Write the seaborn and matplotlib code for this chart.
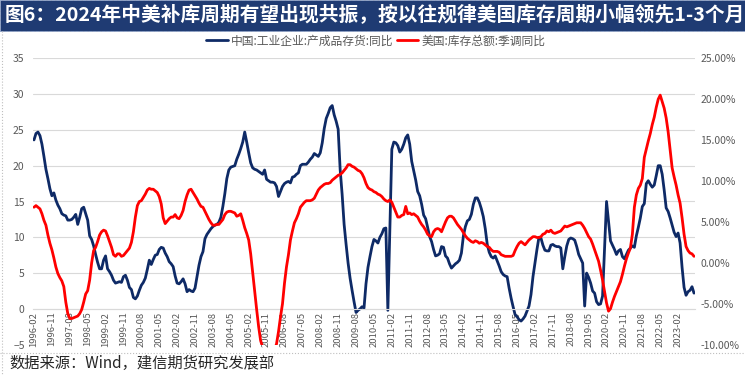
import numpy as np
import pandas as pd
import seaborn as sns
import matplotlib.pyplot as plt
from matplotlib.lines import Line2D
from matplotlib.patches import Rectangle

sns.set_theme(style='white')
plt.rcParams['font.family'] = ['Noto Sans CJK SC', 'DejaVu Sans']

title = '图6：2024年中美补库周期有望出现共振，按以往规律美国库存周期小幅领先1-3个月'
source = '数据来源：Wind，建信期货研究发展部'
china_name = '中国:工业企业:产成品存货:同比'
us_name = '美国:库存总额:季调同比'

months = list(pd.period_range('1996-02', periods=333, freq='M').strftime('%Y-%m'))

# 中国:工业企业:产成品存货:同比 (%), left axis
china_inv = [
    23.6, 24.5, 24.7, 24.2, 23.0, 21.3, 19.5, 18.2, 16.8, 15.8,
    16.2, 15.2, 14.5, 14.0, 13.3, 13.1, 13.0, 12.4, 12.4, 12.5,
    12.8, 13.2, 11.8, 12.8, 14.0, 14.2, 13.3, 12.4, 10.2, 9.7,
    8.8, 7.6, 6.5, 5.6, 5.6, 6.8, 7.4, 5.6, 5.2, 4.7,
    4.0, 3.6, 3.7, 3.8, 3.7, 4.5, 4.7, 4.0, 3.0, 2.7,
    1.6, 1.4, 1.8, 2.6, 3.3, 3.7, 4.3, 5.5, 6.8, 6.2,
    6.9, 7.5, 7.6, 8.3, 8.6, 8.5, 7.8, 7.3, 6.6, 6.3,
    5.9, 4.6, 3.6, 3.5, 3.8, 4.2, 3.5, 2.4, 2.7, 2.5,
    2.4, 2.9, 4.5, 6.1, 7.3, 8.0, 9.8, 10.4, 10.8, 11.2,
    11.5, 11.7, 11.8, 12.1, 12.8, 14.3, 16.1, 18.2, 19.4, 19.8,
    19.9, 20.0, 20.9, 21.6, 22.4, 23.3, 24.7, 23.3, 21.8, 20.4,
    19.7, 19.5, 19.4, 19.2, 19.0, 18.8, 19.4, 18.1, 17.9, 17.7,
    17.7, 17.6, 17.1, 15.7, 16.4, 17.1, 17.5, 17.7, 17.8, 17.6,
    18.4, 18.5, 18.8, 19.0, 20.0, 20.2, 20.2, 20.2, 20.5, 20.9,
    21.2, 21.7, 21.5, 21.3, 21.8, 23.2, 25.2, 26.6, 27.3, 28.1,
    28.4, 27.1, 26.2, 25.1, 19.5, 16.0, 11.8, 9.0, 6.4, 4.3,
    2.6, 1.0, -0.5, -0.2, 0.0, 0.3, 0.1, 3.5, 5.8, 7.3,
    8.7, 9.7, 9.5, 9.2, 10.0, 10.5, 11.2, 11.3, -0.2, 11.0,
    22.3, 23.3, 23.2, 22.8, 21.9, 22.3, 23.0, 23.9, 24.3, 23.0,
    20.6, 19.3, 18.0, 16.4, 15.8, 14.6, 13.1, 12.6, 11.4, 10.1,
    9.4, 8.3, 7.4, 7.5, 7.7, 8.7, 8.6, 7.4, 7.1, 6.3,
    5.7, 6.0, 6.3, 6.5, 6.8, 7.8, 10.2, 11.5, 12.3, 12.5,
    13.2, 14.6, 15.5, 15.5, 14.9, 14.0, 12.9, 11.2, 9.0, 7.9,
    7.3, 7.1, 7.4, 6.7, 6.0, 5.2, 4.8, 4.6, 4.5, 2.9,
    1.5, 0.3, -0.8, -1.1, -1.5, -1.7, -1.4, -1.0, -0.3, 0.4,
    2.0, 4.5, 6.4, 8.3, 10.0, 9.9, 8.9, 8.2, 8.1, 8.1,
    8.9, 9.0, 8.8, 8.7, 8.7, 8.5, 5.6, 7.3, 8.8, 9.7,
    9.9, 9.8, 9.6, 8.7, 7.6, 7.0, 6.4, 0.4, 5.0, 4.4,
    3.6, 2.5, 2.2, 1.0, 0.6, 0.7, 1.8, 8.5, 15.0, 12.2,
    9.5, 8.9, 8.3, 7.6, 8.1, 8.3, 7.3, 7.0, 7.6, 8.2,
    8.5, 8.8, 8.6, 10.2, 11.4, 12.7, 14.3, 14.7, 17.5, 17.9,
    17.4, 17.0, 17.3, 18.6, 20.0, 20.0, 18.8, 16.6, 14.1, 13.6,
    12.7, 11.7, 10.7, 10.1, 10.6, 9.2, 5.8, 3.0, 1.9, 2.4,
    2.6, 3.1, 2.2,
]

# 美国:库存总额:季调同比 (%), right axis
us_inv = [
    6.8, 7.0, 6.8, 6.6, 6.0, 5.2, 4.6, 3.4, 2.4, 1.6,
    0.6, -0.5, -1.3, -1.8, -2.2, -2.9, -4.8, -6.2, -6.8, -6.8,
    -6.7, -6.6, -6.5, -6.2, -5.7, -4.8, -3.8, -3.4, -2.1, 0.0,
    1.5, 1.9, 2.6, 3.4, 3.8, 4.0, 3.9, 3.3, 2.6, 1.9,
    1.0, 0.8, 1.1, 1.1, 0.8, 0.9, 1.2, 1.5, 1.8, 2.5,
    3.8, 5.6, 7.0, 7.5, 7.6, 8.0, 8.4, 8.9, 9.1, 9.0,
    9.0, 8.8, 8.6, 8.1, 7.2, 5.5, 4.8, 5.1, 5.4, 5.6,
    5.6, 5.9, 5.5, 5.4, 5.8, 6.4, 7.5, 8.3, 8.9, 9.0,
    8.6, 8.2, 7.8, 7.3, 6.9, 6.8, 6.3, 5.8, 5.3, 4.9,
    4.6, 4.6, 4.7, 4.7, 5.0, 5.3, 5.9, 6.2, 6.3, 6.3,
    6.2, 6.1, 5.7, 5.8, 6.0, 5.2, 4.3, 3.6, 2.8, 1.1,
    -1.2, -3.5, -5.7, -7.8, -9.5, -10.3, -11.5, -12.3, -12.6, -12.3,
    -11.6, -10.6, -9.9, -8.4, -6.6, -5.0, -2.5, -0.5, 1.0, 2.8,
    3.9, 4.9, 5.4, 6.0, 6.8, 7.1, 7.4, 7.6, 7.6, 7.6,
    7.7, 7.9, 8.4, 8.9, 9.2, 9.4, 9.6, 9.7, 9.7, 9.8,
    10.1, 10.3, 10.5, 10.7, 10.8, 11.0, 11.3, 11.6, 12.0, 12.0,
    11.8, 11.7, 11.5, 11.3, 11.2, 10.9, 10.4, 9.7, 9.2, 9.0,
    8.9, 8.7, 8.6, 8.4, 8.3, 8.1, 7.8, 7.6, 7.5, 7.7,
    7.4, 6.8, 6.2, 5.6, 5.6, 5.8, 5.9, 6.9, 6.0, 6.1,
    5.9, 6.0, 5.8, 5.6, 5.1, 4.7, 4.4, 4.0, 3.5, 3.3,
    3.2, 3.8, 4.1, 4.2, 4.1, 3.8, 4.4, 5.0, 5.5, 5.7,
    5.7, 5.5, 5.1, 4.7, 4.4, 4.1, 3.7, 3.3, 3.0, 2.8,
    2.6, 2.5, 2.7, 2.6, 2.4, 2.5, 2.4, 2.2, 2.0, 1.9,
    1.6, 1.4, 1.4, 1.4, 1.3, 1.0, 0.9, 0.8, 0.8, 0.8,
    0.8, 0.9, 1.5, 2.0, 2.4, 2.6, 2.4, 2.2, 2.5, 2.8,
    3.0, 3.2, 3.2, 3.1, 3.1, 3.2, 3.5, 3.6, 3.9, 3.8,
    4.0, 3.7, 3.6, 3.7, 3.8, 3.9, 4.2, 4.5, 4.4, 4.5,
    4.6, 4.7, 4.8, 4.9, 4.9, 4.9, 4.6, 4.2, 3.7, 3.2,
    2.9, 2.3, 1.6, 0.9, 0.2, -0.9, -2.1, -3.5, -4.9, -5.9,
    -5.6, -4.8, -4.1, -3.5, -2.9, -2.3, -1.4, -0.4, 0.5, 1.2,
    1.8, 3.5, 6.8, 8.3, 9.1, 9.5, 10.3, 12.9, 13.9, 14.9,
    15.8, 16.9, 17.8, 19.0, 20.0, 20.5, 19.7, 18.9, 17.7, 16.0,
    13.8, 11.6, 10.5, 9.5, 8.3, 7.3, 5.5, 3.5, 2.0, 1.5,
    1.2, 1.1, 0.8,
]

tick_labels = months[::9]

navy = '#0E2A66'
red = '#FF0000'
grey = '#595959'

df = pd.DataFrame({'idx': np.arange(len(months)), 'month': months,
                   'china': china_inv, 'us': us_inv})

fig = plt.figure(figsize=(7.45, 3.76), dpi=100)

# title band
fig.add_artist(Rectangle((0, 1 - 31 / 376), 1, 31 / 376, transform=fig.transFigure,
                         facecolor='#1F3B73', edgecolor='#8FA3C8', linestyle='--', linewidth=0.6))
fig.text(0.006, 1 - 15.5 / 376, title, color='white', fontsize=14.2, fontweight='bold',
         va='center', ha='left')

# dotted frame
fig.add_artist(Line2D([2 / 745, 2 / 745], [1 - 31 / 376, 0.0], transform=fig.transFigure,
                      color='#BFBFBF', linestyle=':', linewidth=0.8))
fig.add_artist(Line2D([0, 1], [1 - 353 / 376, 1 - 353 / 376], transform=fig.transFigure,
                      color='#BFBFBF', linestyle=':', linewidth=0.8))

ax = fig.add_axes([33 / 745, 1 - 344.7 / 376, 662 / 745, (344.7 - 58.3) / 376])
sns.lineplot(data=df, x='idx', y='china', ax=ax, color=navy, linewidth=2.0)

ax2 = ax.twinx()
sns.lineplot(data=df, x='idx', y='us', ax=ax2, color=red, linewidth=2.0)

# left axis
ax.set_xlim(-0.5, len(months) - 0.5)
ax.set_ylim(-5, 35)
ax.set_yticks(np.arange(-5, 36, 5))
ax.yaxis.grid(True, color='#D9D9D9', linewidth=0.8)
ax.get_ygridlines()[0].set_visible(False)
ax.xaxis.grid(False)
ax.tick_params(axis='y', length=0, pad=6, labelsize=7.5, labelcolor=grey)
for s in ['top', 'left', 'right']:
    ax.spines[s].set_visible(False)
ax.spines['bottom'].set_position(('data', 0))
ax.spines['bottom'].set_color('#D9D9D9')
ax.spines['bottom'].set_linewidth(0.8)
ax.set_xlabel('')
ax.set_ylabel('')
ax.set_facecolor('none')

# right axis
ax2.set_ylim(-10, 25)
ax2.set_yticks(np.arange(-10, 26, 5))
ax2.set_yticklabels([f'{v:.2f}%' for v in np.arange(-10, 26, 5)])
ax2.tick_params(axis='y', length=0, pad=4, labelsize=7.5, labelcolor=grey)
ax2.grid(False)
for s in ax2.spines.values():
    s.set_visible(False)
ax2.set_ylabel('')
ax2.set_xlabel('')

# category labels every 9 months, vertical
ax.set_xticks(np.arange(0, len(months), 9))
ax.set_xticklabels(tick_labels)
ax.tick_params(axis='x', length=0, pad=2, labelsize=6.8, labelcolor=grey)
plt.setp(ax.get_xticklabels(), rotation=90, ha='center', va='top')
ax2.set_xlim(-0.5, len(months) - 0.5)

handles = [Line2D([], [], color=navy, linewidth=2.0), Line2D([], [], color=red, linewidth=2.0)]
fig.legend(handles, [china_name, us_name], loc='center', bbox_to_anchor=(0.505, 1 - 41 / 376),
           ncol=2, frameon=False, fontsize=8.5, handlelength=1.8, handletextpad=0.3,
           columnspacing=0.3, labelcolor=grey)

fig.text(0.012, 1 - 363 / 376, source, style='italic', fontsize=11, color='#262626',
         va='center', ha='left')

fig.savefig('out.png', dpi=100)
